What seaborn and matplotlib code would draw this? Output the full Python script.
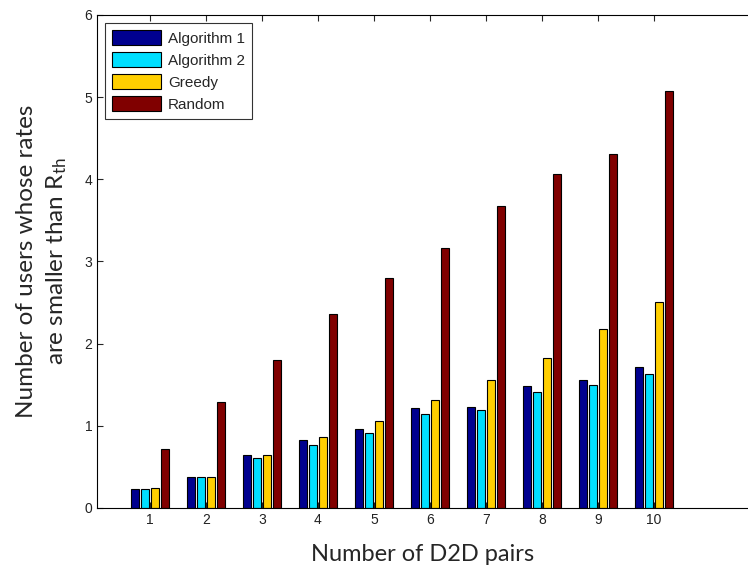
import matplotlib
matplotlib.use("Agg")
import matplotlib.pyplot as plt
import pandas as pd
import seaborn as sns

# values
pairs = [1, 2, 3, 4, 5, 6, 7, 8, 9, 10]
alg1 = [0.23, 0.38, 0.65, 0.83, 0.96, 1.22, 1.23, 1.48, 1.56, 1.72]
alg2 = [0.23, 0.38, 0.61, 0.77, 0.91, 1.14, 1.19, 1.41, 1.50, 1.63]
greedy = [0.24, 0.38, 0.65, 0.87, 1.06, 1.32, 1.56, 1.83, 2.18, 2.51]
rand_ = [0.72, 1.29, 1.80, 2.36, 2.80, 3.17, 3.68, 4.06, 4.31, 5.07]

methods = ["Algorithm 1", "Algorithm 2", "Greedy", "Random"]
colors = ["#00008F", "#00DFFF", "#FFCF00", "#800000"]

df = pd.DataFrame({"pairs": pairs, "Algorithm 1": alg1, "Algorithm 2": alg2,
                   "Greedy": greedy, "Random": rand_})
long_df = df.melt(id_vars="pairs", var_name="method", value_name="users")

sns.set_style("white")
plt.rcParams['font.family'] = ['Liberation Sans', 'DejaVu Sans']

fig = plt.figure(figsize=(7.48, 5.72), dpi=100)
ax = fig.add_axes([0.1297, 0.1119, 0.8703, 0.8619])

sns.barplot(data=long_df, x="pairs", y="users", hue="method", hue_order=methods,
            palette=colors, width=0.72, gap=0.18, edgecolor="black", linewidth=0.8,
            saturation=1, ax=ax)

ax.set_xlim(-0.946, 10.68)
ax.set_ylim(0, 6)
ax.set_yticks(range(0, 7))
ax.tick_params(direction="in", length=4, top=True, right=False, labelsize=10,
               bottom=True, left=True, width=0.8, labelcolor="#222222")
for s in ["top", "bottom", "left"]:
    ax.spines[s].set_color("black")
    ax.spines[s].set_linewidth(0.8)
ax.spines["right"].set_visible(False)

ax.set_xlabel("Number of D2D pairs", fontsize=17, family="Lato", labelpad=12)
ax.set_ylabel("Number of users whose rates\nare smaller than $\\mathregular{R_{th}}$",
              fontsize=17.5, family="Lato", labelpad=11, linespacing=1.4)

leg = ax.legend(loc="upper left", fontsize=11, handlelength=3.2, handleheight=1.1,
                fancybox=False, edgecolor="black", borderaxespad=0.55,
                labelspacing=0.42, handletextpad=0.45, borderpad=0.45)
leg.get_frame().set_linewidth(0.8)

fig.savefig("out.png", dpi=100)
